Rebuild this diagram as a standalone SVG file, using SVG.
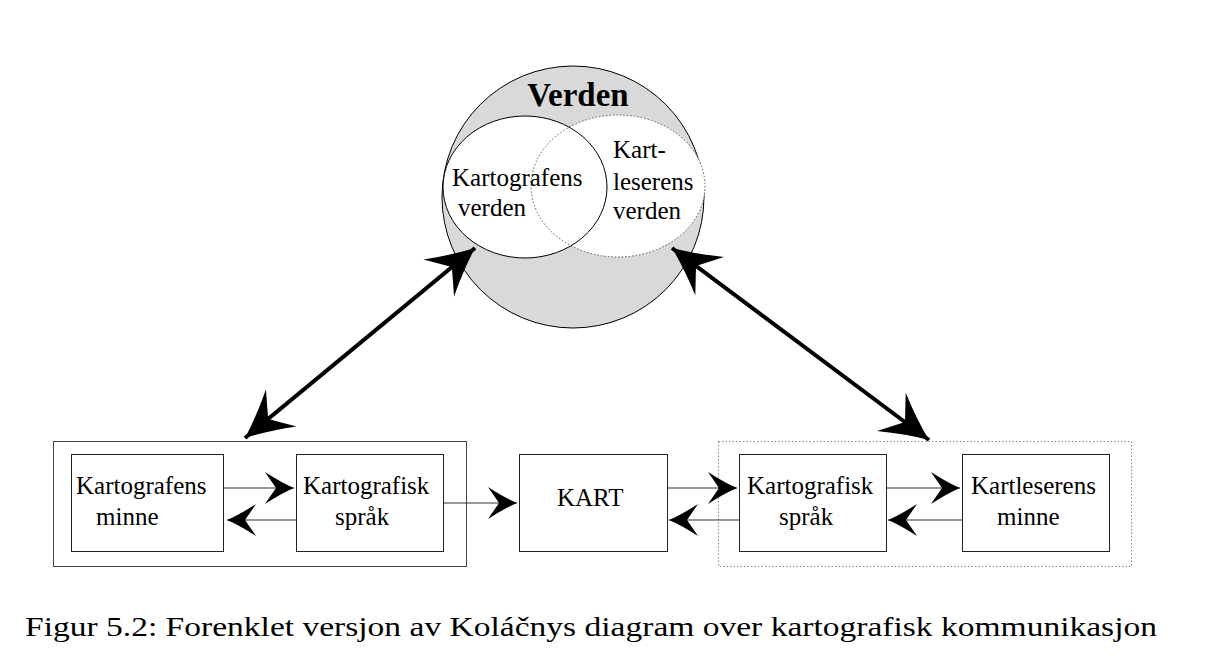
<svg xmlns="http://www.w3.org/2000/svg" width="1212" height="665" viewBox="0 0 1212 665">
<style>
.t{font-family:"Liberation Serif","Times New Roman",serif;font-size:25px;fill:#000}
.box{fill:#fff;stroke:#222;stroke-width:1}
.thin{stroke:#333;stroke-width:1.2;fill:none}
.thick{stroke:#000;stroke-width:4;fill:none}
</style>
<defs>
<marker id="big" markerUnits="userSpaceOnUse" markerWidth="60" markerHeight="60" viewBox="-50 -30 60 60" refX="0" refY="0" orient="auto-start-reverse">
<path d="M0,0 Q-22,-9 -47,-24 L-30,0 L-47,24 Q-22,9 0,0 Z" fill="#000"/>
</marker>
<marker id="sm" markerUnits="userSpaceOnUse" markerWidth="40" markerHeight="40" viewBox="-32 -20 40 40" refX="0" refY="0" orient="auto">
<path d="M0,0 Q-12,-5 -29,-16 L-18,0 L-29,16 Q-12,5 0,0 Z" fill="#000"/>
</marker>
</defs>
<rect width="1212" height="665" fill="#fff"/>

<g id="verden">
<circle cx="573" cy="197" r="131" fill="#d9d9d9" stroke="#000" stroke-width="1"/>
<text x="578" y="106" text-anchor="middle" class="t" style="font-size:33px;font-weight:bold">Verden</text>
</g>
<g id="fills">
<ellipse cx="525" cy="187" rx="82" ry="71" fill="#fff"/>
<ellipse cx="618" cy="186" rx="87" ry="71" fill="#fff"/>
</g>
<g id="kartleserens-verden">
<ellipse cx="618" cy="186" rx="87" ry="71" fill="none" stroke="#555" stroke-width="1" stroke-dasharray="1.5,2"/>
<text x="613" y="158" class="t">Kart-</text>
<text x="613" y="190" class="t">leserens</text>
<text x="613" y="219" class="t">verden</text>
</g>
<g id="kartografens-verden">
<ellipse cx="525" cy="187" rx="82" ry="71" fill="none" stroke="#000" stroke-width="1"/>
<text x="452" y="186" class="t">Kartografens</text>
<text x="458" y="216" class="t">verden</text>
</g>

<g id="kartograf-group">
<rect x="53.5" y="441.5" width="413" height="125" fill="none" stroke="#444" stroke-width="1"/>
</g>
<g id="kartleser-group">
<rect x="718.5" y="441.5" width="413" height="125" fill="none" stroke="#888" stroke-width="1" stroke-dasharray="1.5,2"/>
</g>

<g id="kartografens-minne">
<rect class="box" x="71.5" y="454.5" width="152" height="97"/>
<text x="76" y="494" class="t">Kartografens</text>
<text x="96" y="525" class="t">minne</text>
</g>
<g id="kartografisk-sprak-1">
<rect class="box" x="296.5" y="454.5" width="147" height="97"/>
<text x="303" y="494" class="t">Kartografisk</text>
<text x="335" y="525" class="t">språk</text>
</g>
<g id="kart">
<rect class="box" x="519.5" y="454.5" width="148" height="97"/>
<text x="557" y="506" class="t">KART</text>
</g>
<g id="kartografisk-sprak-2">
<rect class="box" x="739.5" y="454.5" width="147" height="97"/>
<text x="747" y="494" class="t">Kartografisk</text>
<text x="779" y="525" class="t">språk</text>
</g>
<g id="kartleserens-minne">
<rect class="box" x="962.5" y="454.5" width="147" height="97"/>
<text x="971" y="494" class="t">Kartleserens</text>
<text x="997" y="525" class="t">minne</text>
</g>

<g id="connectors">
<line class="thick" x1="475" y1="248" x2="245" y2="438" marker-start="url(#big)" marker-end="url(#big)"/>
<line class="thick" x1="672" y1="248" x2="929" y2="440" marker-start="url(#big)" marker-end="url(#big)"/>
<line class="thin" x1="224" y1="488" x2="294" y2="488" marker-end="url(#sm)"/>
<line class="thin" x1="296" y1="520" x2="227" y2="520" marker-end="url(#sm)"/>
<line class="thin" x1="444" y1="503" x2="517" y2="503" marker-end="url(#sm)"/>
<line class="thin" x1="668" y1="488" x2="737" y2="488" marker-end="url(#sm)"/>
<line class="thin" x1="739" y1="520" x2="669" y2="520" marker-end="url(#sm)"/>
<line class="thin" x1="887" y1="488" x2="960" y2="488" marker-end="url(#sm)"/>
<line class="thin" x1="962" y1="520" x2="888" y2="520" marker-end="url(#sm)"/>
</g>

<text x="25" y="636" class="t" style="font-size:27px" textLength="1132" lengthAdjust="spacingAndGlyphs">Figur 5.2: Forenklet versjon av Koláčnys diagram over kartografisk kommunikasjon</text>
</svg>
